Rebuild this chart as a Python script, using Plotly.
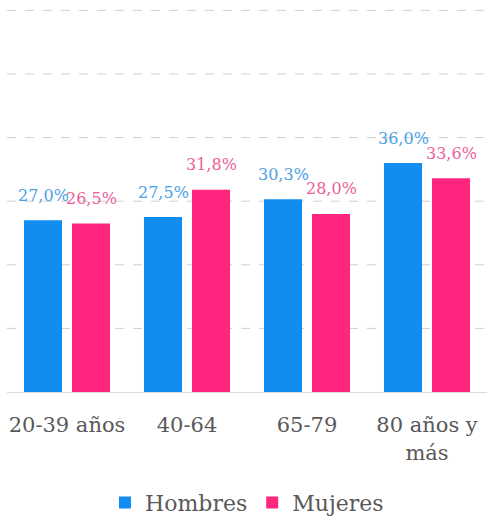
import plotly.graph_objects as go

categories = ["20-39 años", "40-64", "65-79", "80 años y<br>más"]
hombres = [27.0, 27.5, 30.3, 36.0]
mujeres = [26.5, 31.8, 28.0, 33.6]
series_names = ["Hombres", "Mujeres"]
grid_levels = [10, 20, 30, 40, 50, 60]

bar_colors = ["#118cf0", "#ff2680"]
label_colors = ["#4c9fe6", "#ec5f99"]
FONT = "DejaVu Serif"

fig = go.Figure()
for name, vals, col in zip(series_names, [hombres, mujeres], bar_colors):
    fig.add_trace(go.Bar(x=categories, y=vals, name=name, marker_color=col,
                         marker_line_width=0))

def fmt(v):
    return f"{v:.1f}".replace(".", ",") + "%"

annotations = []
for vals, lcol, shift in zip([hombres, mujeres], label_colors, [-24, 24]):
    for c, v in zip(categories, vals):
        annotations.append(dict(x=c, y=v, xref="x", yref="y", text=fmt(v),
                                showarrow=False, xshift=shift, yshift=25,
                                yanchor="middle", xanchor="center",
                                font=dict(family=FONT, size=16, color=lcol)))

shapes = [dict(type="line", xref="paper", yref="y", x0=0, x1=1, y0=g, y1=g,
               line=dict(color="#d0d0d0", width=1, dash="dash"), layer="below")
          for g in grid_levels]

fig.update_layout(
    width=487, height=525,
    margin=dict(l=7, r=0, t=4, b=133),
    paper_bgcolor="white", plot_bgcolor="white",
    barmode="group", bargap=0.2, bargroupgap=0.208,
    font=dict(family=FONT, color="#595959"),
    showlegend=True,
    legend=dict(orientation="h", x=0.5, xanchor="center", y=-0.285,
                yanchor="middle", font=dict(family=FONT, size=22, color="#595959"),
                itemwidth=30, tracegroupgap=0),
    annotations=annotations,
    shapes=shapes,
    xaxis=dict(showgrid=False, showline=True, linecolor="#dcdcdc", linewidth=1,
               ticks="outside", ticklen=14, tickcolor="rgba(0,0,0,0)",
               tickfont=dict(family=FONT, size=21, color="#595959")),
    yaxis=dict(range=[0, 61], showgrid=False, showticklabels=False,
               zeroline=False, showline=False),
)

fig.write_html("out.html")
